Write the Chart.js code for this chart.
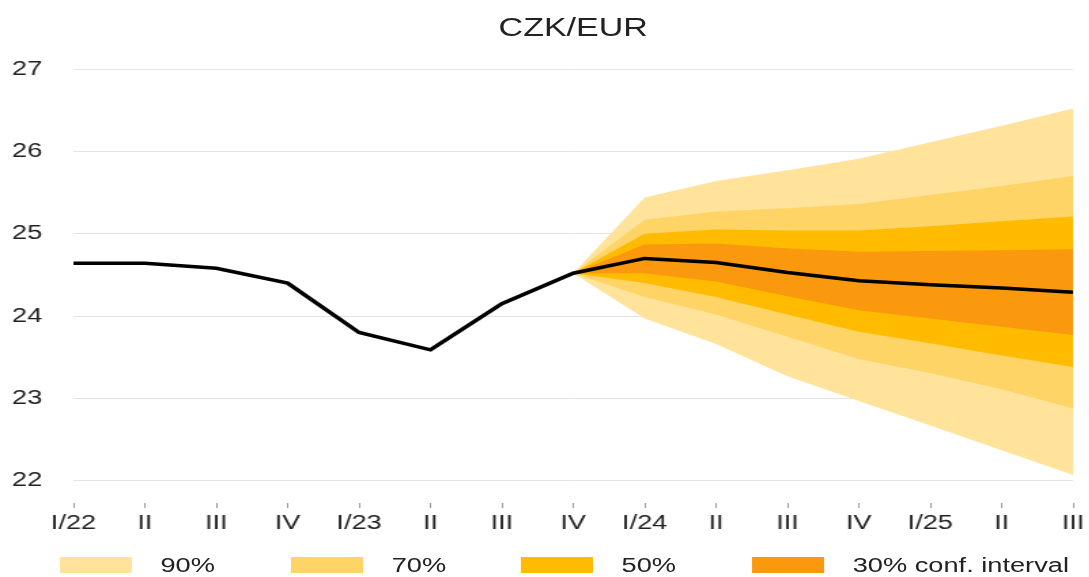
<!DOCTYPE html>
<html>
<head>
<meta charset="utf-8">
<title>CZK/EUR</title>
<script src="https://cdn.jsdelivr.net/npm/chart.js@4.4.1/dist/chart.umd.min.js"></script>
<style>
  html, body { margin: 0; padding: 0; background: #fff; overflow: hidden; }
  /* the original picture is stretched sideways, so the whole page is drawn narrow and widened */
  #wrap { position: relative; width: 801px; height: 577px; transform: scaleX(1.36); transform-origin: 0 0; font-family: 'Liberation Sans', Arial, sans-serif; color: #222; }
  #chartTitle { position: absolute; left: 54px; width: 735px; top: 13px; text-align: center; font-size: 25px; line-height: 28px; }
  #chartBox { position: absolute; left: 0; top: 0; width: 801px; height: 540px; }
  #legend { position: absolute; left: 0; top: 553px; width: 801px; height: 24px; }
  .item { position: absolute; top: 0; height: 24px; }
  .swatch { position: absolute; left: 0; top: 4px; width: 53px; height: 16px; }
  .label { position: absolute; top: 0; left: 74px; font-size: 20px; line-height: 24px; white-space: nowrap; }
</style>
</head>
<body>
<div id="wrap">
  <div id="chartTitle">CZK/EUR</div>
  <div id="chartBox"><canvas id="fanChart"></canvas></div>
  <div id="legend"></div>
</div>
<script>
// Quarter labels on the x axis
const quarters = ['I/22', 'II', 'III', 'IV', 'I/23', 'II', 'III', 'IV', 'I/24', 'II', 'III', 'IV', 'I/25', 'II', 'III'];

// Actual values and the forecast centre line
const centralLine = [24.64, 24.64, 24.58, 24.40, 23.80, 23.59, 24.15, 24.52, 24.70, 24.65, 24.53, 24.43, 24.38, 24.34, 24.29];

// Confidence bands (the fan starts at IV/23)
const upper90 = [null, null, null, null, null, null, null, 24.52, 25.44, 25.64, 25.77, 25.91, 26.11, 26.31, 26.52];
const lower90 = [null, null, null, null, null, null, null, 24.52, 23.97, 23.66, 23.27, 22.97, 22.67, 22.37, 22.07];
const upper70 = [null, null, null, null, null, null, null, 24.52, 25.17, 25.27, 25.31, 25.36, 25.47, 25.58, 25.70];
const lower70 = [null, null, null, null, null, null, null, 24.52, 24.23, 24.02, 23.75, 23.48, 23.31, 23.11, 22.88];
const upper50 = [null, null, null, null, null, null, null, 24.52, 25.00, 25.05, 25.04, 25.04, 25.09, 25.15, 25.21];
const lower50 = [null, null, null, null, null, null, null, 24.52, 24.40, 24.23, 24.02, 23.81, 23.67, 23.52, 23.38];
const upper30 = [null, null, null, null, null, null, null, 24.52, 24.87, 24.88, 24.82, 24.78, 24.79, 24.80, 24.81];
const lower30 = [null, null, null, null, null, null, null, 24.52, 24.52, 24.42, 24.24, 24.07, 23.97, 23.87, 23.77];

const yTicks = [22, 23, 24, 25, 26, 27];
const bandNames = ['90%', '70%', '50%', '30% conf. interval'];
const bandColors = ['#ffe39b', '#ffd466', '#ffbb00', '#fa980e'];

const fontFamily = "'Liberation Sans', Arial, sans-serif";

// Helper for one band: the upper line fills down to the next dataset (its lower line)
function bandPair(upper, lower, color) {
    return [
        { data: upper, borderWidth: 0, pointRadius: 0, fill: '+1', backgroundColor: color, borderColor: color },
        { data: lower, borderWidth: 0, pointRadius: 0, fill: false, borderColor: color }
    ];
}

function createFanChart() {
    const ctx = document.getElementById('fanChart').getContext('2d');

    // Dataset 0 is drawn last, so the line sits on top and the 90% band at the bottom
    const datasets = [
        { data: centralLine, borderColor: '#000', borderWidth: 3.5, pointRadius: 0, fill: false, tension: 0 },
        ...bandPair(upper30, lower30, bandColors[3]),
        ...bandPair(upper50, lower50, bandColors[2]),
        ...bandPair(upper70, lower70, bandColors[1]),
        ...bandPair(upper90, lower90, bandColors[0])
    ];

    new Chart(ctx, {
        type: 'line',
        data: { labels: quarters, datasets: datasets },
        options: {
            responsive: true,
            maintainAspectRatio: false,
            animation: false,
            layout: { padding: { top: 69, right: 12, left: 0, bottom: 0 } },
            plugins: {
                legend: { display: false },
                title: { display: false },
                tooltip: { enabled: false }
            },
            scales: {
                x: {
                    offset: false,
                    border: { display: false },
                    grid: { drawOnChartArea: false, drawTicks: true, tickLength: 5, tickColor: '#999', tickWidth: 1 },
                    ticks: {
                        autoSkip: false,
                        maxRotation: 0,
                        padding: 3,
                        color: '#222',
                        font: { family: fontFamily, size: 20 }
                    },
                    afterFit: scale => { scale.height = 37; }
                },
                y: {
                    min: 21.73,
                    max: 27,
                    border: { display: false },
                    grid: { color: '#e3e3e3', lineWidth: 1, drawTicks: false },
                    ticks: {
                        stepSize: 1,
                        padding: 23,
                        color: '#222',
                        font: { family: fontFamily, size: 20 }
                    },
                    // keep only the whole-number ticks
                    afterBuildTicks: scale => {
                        scale.ticks = yTicks.map(v => ({ value: v }));
                    },
                    afterFit: scale => { scale.width = 54; }
                }
            }
        }
    });
}

// Legend below the chart, spaced like the original
function buildLegend() {
    const legend = document.getElementById('legend');
    const lefts = [44, 214, 383, 553];
    bandNames.forEach((name, i) => {
        const item = document.createElement('div');
        item.className = 'item';
        item.style.left = lefts[i] + 'px';
        item.innerHTML = `<div class="swatch" style="background:${bandColors[i]}"></div><div class="label">${name}</div>`;
        legend.appendChild(item);
    });
}

document.addEventListener('DOMContentLoaded', () => {
    buildLegend();
    createFanChart();
});
</script>
</body>
</html>
